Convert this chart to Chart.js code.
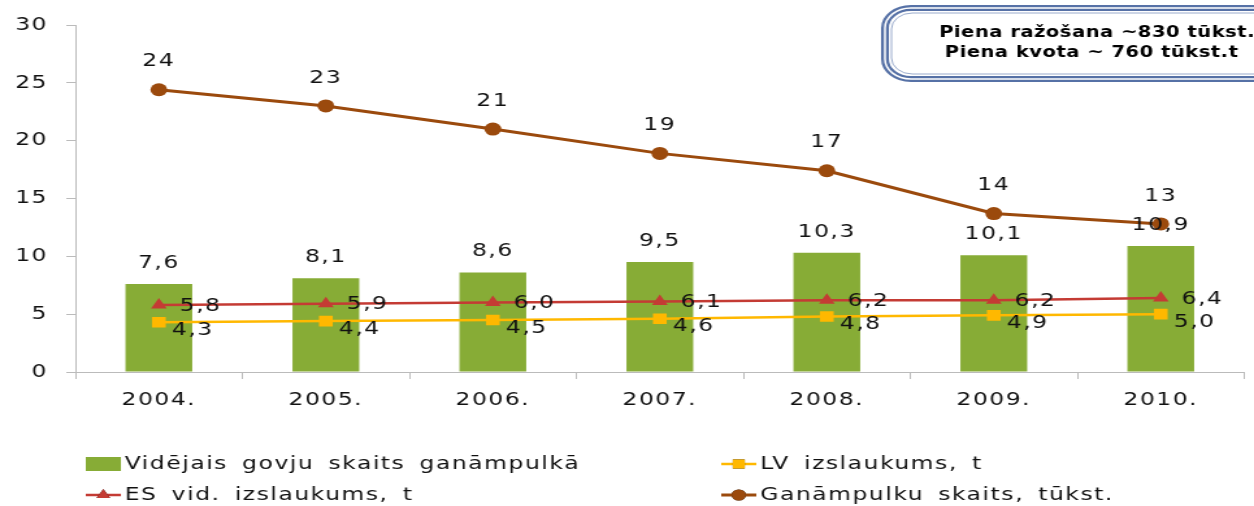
<!DOCTYPE html>
<html>
<head>
<meta charset="utf-8">
<script src="https://cdn.jsdelivr.net/npm/chart.js@4.4.1/dist/chart.umd.min.js"></script>
<style>
  html, body { margin: 0; padding: 0; background: #fff; overflow: hidden; }
  /* the original picture is an Excel chart stretched sideways, so draw narrow and stretch */
  #wrap { width: 965px; height: 506px; transform: scaleX(1.2995); transform-origin: 0 0; }
</style>
</head>
<body>
<div id="wrap"><canvas id="chart" width="965" height="506"></canvas></div>
<script>
const years = ["2004.", "2005.", "2006.", "2007.", "2008.", "2009.", "2010."];
const herdSize = [7.6, 8.1, 8.6, 9.5, 10.3, 10.1, 10.9];
const lvYield = [4.3, 4.4, 4.5, 4.6, 4.8, 4.9, 5.0];
const esYield = [5.8, 5.9, 6.0, 6.1, 6.2, 6.2, 6.4];
const herdCount = [24.4, 23.0, 21.0, 18.9, 17.4, 13.7, 12.8];
const yTicks = [0, 5, 10, 15, 20, 25, 30];
const noteLines = ["Piena ražošana ~830 tūkst.t", "Piena kvota ~ 760 tūkst.t"];

const FONT = "DejaVu Sans";
const GREEN = "#87AC36";
const YELLOW = "#FFB800";
const RED = "#C43B34";
const BROWN = "#9B4A0D";
const SPACING = "1.2px";

const comma = (v) => v.toFixed(1).replace(".", ",");

// the source text is loosely spaced
const spacing = {
  id: "spacing",
  beforeUpdate(chart) { chart.ctx.letterSpacing = SPACING; },
  beforeDraw(chart) { chart.ctx.letterSpacing = SPACING; }
};

// value labels next to bars / points
const valueLabels = {
  id: "valueLabels",
  afterDatasetsDraw(chart) {
    const ctx = chart.ctx;
    ctx.save();
    ctx.font = "18px '" + FONT + "'";
    ctx.fillStyle = "#111";
    ctx.textBaseline = "middle";
    chart.data.datasets.forEach((ds, i) => {
      const meta = chart.getDatasetMeta(i);
      meta.data.forEach((el, j) => {
        const v = ds.data[j];
        if (ds.labelPos === "top") {
          ctx.textAlign = "center";
          ctx.fillText(comma(v), el.x, el.y - 21);
        } else if (ds.labelPos === "topInt") {
          ctx.textAlign = "center";
          ctx.fillText(String(Math.round(v)), el.x, el.y - 28);
        } else if (ds.labelPos === "right") {
          ctx.textAlign = "left";
          ctx.fillText(comma(v), el.x + 16, el.y + 1);
        } else if (ds.labelPos === "rightBelow") {
          ctx.textAlign = "left";
          ctx.fillText(comma(v), el.x + 10, el.y + 8);
        }
      });
    });
    ctx.restore();
  }
};

// legend in two columns under the axis
const legendBlock = {
  id: "legendBlock",
  afterDraw(chart) {
    const ctx = chart.ctx;
    const spots = [
      { x: 66, y: 464 },
      { x: 555, y: 464 },
      { x: 66, y: 495 },
      { x: 555, y: 495 }
    ];
    ctx.save();
    ctx.font = "18px '" + FONT + "'";
    ctx.wordSpacing = "4px";
    ctx.textBaseline = "middle";
    ctx.textAlign = "left";
    chart.data.datasets.forEach((ds, k) => {
      const p = spots[k];
      if (ds.type === "bar") {
        ctx.fillStyle = ds.backgroundColor;
        ctx.fillRect(p.x, p.y - 7, 27, 14);
      } else {
        ctx.strokeStyle = ds.borderColor;
        ctx.lineWidth = ds.borderWidth;
        ctx.beginPath();
        ctx.moveTo(p.x, p.y);
        ctx.lineTo(p.x + 27, p.y);
        ctx.stroke();
        Chart.helpers.drawPoint(ctx, {
          pointStyle: ds.pointStyle,
          radius: ds.pointRadius - 1,
          borderWidth: 0
        }, p.x + 13.5, p.y);
        ctx.fillStyle = ds.pointBackgroundColor;
        ctx.fill();
      }
      ctx.fillStyle = "#111";
      ctx.fillText(ds.label, p.x + 30, p.y);
    });
    ctx.restore();
  }
};

// rounded note box at top right
const noteBox = {
  id: "noteBox",
  afterDraw(chart) {
    const ctx = chart.ctx;
    ctx.save();
    ctx.letterSpacing = "0.4px";
    ctx.beginPath();
    ctx.roundRect(681, 8, 320, 71, 20);
    ctx.lineWidth = 6;
    ctx.strokeStyle = "#5671A6";
    ctx.stroke();
    ctx.lineWidth = 1.5;
    ctx.strokeStyle = "#ffffff";
    ctx.stroke();
    ctx.beginPath();
    ctx.roundRect(686, 13, 310, 61, 16);
    ctx.lineWidth = 1;
    ctx.strokeStyle = "#9AABCC";
    ctx.stroke();
    ctx.font = "bold 15px '" + FONT + "'";
    ctx.fillStyle = "#000";
    ctx.textAlign = "center";
    ctx.textBaseline = "middle";
    ctx.fillText(noteLines[0], 848, 33);
    ctx.fillText(noteLines[1], 840, 53);
    ctx.restore();
  }
};

new Chart(document.getElementById("chart"), {
  type: "bar",
  data: {
    labels: years,
    datasets: [
      {
        type: "bar",
        label: "Vidējais govju skaits ganāmpulkā",
        data: herdSize,
        backgroundColor: GREEN,
        barPercentage: 1,
        categoryPercentage: 0.4,
        labelPos: "top",
        order: 4
      },
      {
        type: "line",
        label: "LV izslaukums, t",
        data: lvYield,
        borderColor: YELLOW,
        borderWidth: 2.5,
        pointStyle: "rect",
        pointRadius: 7.5,
        pointBackgroundColor: YELLOW,
        pointBorderWidth: 0,
        labelPos: "rightBelow",
        order: 3
      },
      {
        type: "line",
        label: "ES vid. izslaukums, t",
        data: esYield,
        borderColor: RED,
        borderWidth: 2.5,
        pointStyle: "triangle",
        pointRadius: 7,
        pointBackgroundColor: RED,
        pointBorderWidth: 0,
        labelPos: "right",
        order: 2
      },
      {
        type: "line",
        label: "Ganāmpulku skaits, tūkst.",
        data: herdCount,
        borderColor: BROWN,
        borderWidth: 3,
        pointStyle: "circle",
        pointRadius: 6.5,
        pointBackgroundColor: BROWN,
        pointBorderWidth: 0,
        labelPos: "topInt",
        order: 1
      }
    ]
  },
  options: {
    responsive: false,
    devicePixelRatio: 1,
    animation: false,
    layout: { padding: { top: 25, right: 0, bottom: 88, left: 0 } },
    plugins: {
      legend: { display: false },
      tooltip: { enabled: false }
    },
    scales: {
      x: {
        offset: true,
        grid: { offset: true, drawOnChartArea: false, drawTicks: true, tickLength: 7, color: "#BBBBBB" },
        border: { color: "#BBBBBB", width: 1 },
        ticks: { color: "#111", font: { family: FONT, size: 18 }, padding: 11, maxRotation: 0 },
        afterFit: (s) => { s.height = 46; }
      },
      y: {
        min: 0,
        max: 30,
        afterBuildTicks: (s) => { s.ticks = yTicks.map((v) => ({ value: v })); },
        grid: { drawOnChartArea: false, drawTicks: true, tickLength: 7, color: "#BBBBBB" },
        border: { color: "#BBBBBB", width: 1 },
        ticks: { color: "#111", font: { family: FONT, size: 18 }, padding: 14 },
        afterFit: (s) => { s.width = 58; }
      }
    }
  },
  plugins: [spacing, valueLabels, legendBlock, noteBox]
});
</script>
</body>
</html>
